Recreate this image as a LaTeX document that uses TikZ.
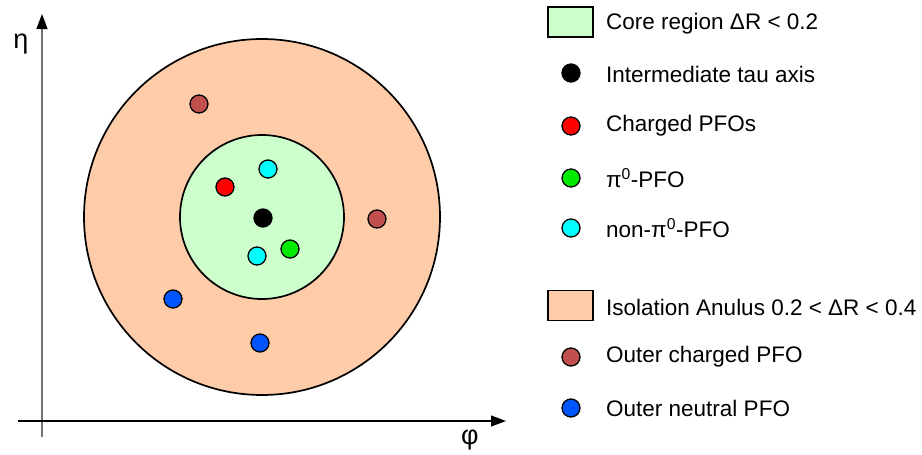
\documentclass[tikz,border=0pt]{standalone}
\usepackage{fontspec}
\setmainfont{Liberation Sans}
\usetikzlibrary{arrows.meta}
\definecolor{coregreen}{RGB}{204,255,204}
\definecolor{isoorange}{RGB}{255,204,170}
\definecolor{outerbrown}{RGB}{192,80,77}
\definecolor{outerblue}{RGB}{0,85,255}
\definecolor{pizero}{RGB}{0,235,0}
\definecolor{aqua}{RGB}{0,255,255}

\begin{document}
\begin{tikzpicture}[x=1pt,y=-1pt,font=\fontsize{22.5}{26}\selectfont,
				pfo/.style={circle,draw=black,line width=1.3pt,inner sep=0pt,minimum size=18pt},
				region/.style={circle,draw=black,line width=1.7pt,inner sep=0pt},
				legbox/.style={draw=black,line width=1.4pt,inner sep=0pt,minimum width=45pt,minimum height=30pt},
				lbl/.style={anchor=west,inner sep=0pt},
				ax/.style={-{Triangle[length=15pt,width=11pt,color=black]}}]
				\useasboundingbox (0,0) rectangle (922,455);
				
				% axes
				\coordinate (ybot) at (42,437);
				\coordinate (ytop) at (42,14);
				\coordinate (xleft) at (18,421);
				\coordinate (xright) at (506,421);
				\draw[ax,gray!90!black,line width=1.2pt] (ybot) -- (ytop);
				\draw[ax,black,line width=1.2pt] (xleft) -- (xright);
				\node (eta) at (21,44){\fontsize{27}{30}\selectfont η};
				\node (phi) at (470,440){\fontsize{27}{30}\selectfont φ};
				
				% cone regions
				\node[region,fill=isoorange,minimum size=356pt] (iso) at (262,217){};
				\node[region,fill=coregreen,minimum size=164pt] (core) at (262,217){};
				
				% PFOs
				\node[pfo,fill=black] (axis) at (263,218){};
				\node[pfo,fill=red] (ch1) at (225,187){};
				\node[pfo,fill=aqua] (np1) at (268,169){};
				\node[pfo,fill=aqua] (np2) at (257,256){};
				\node[pfo,fill=pizero] (pi1) at (290,249){};
				\node[pfo,fill=outerbrown] (och1) at (199,104){};
				\node[pfo,fill=outerbrown] (och2) at (377,219){};
				\node[pfo,fill=outerblue] (onu1) at (173,299){};
				\node[pfo,fill=outerblue] (onu2) at (260,343){};
				
				% legend
				\node[legbox,fill=coregreen] (lcore) at (570.5,22){};
				\node[lbl] (tcore) at (606,24){Core region ΔR < 0.2};
				\node[pfo,fill=black] (laxis) at (571,73){};
				\node[lbl] (taxis) at (606,74){Intermediate tau axis};
				\node[pfo,fill=red] (lch) at (571,126){};
				\node[lbl] (tch) at (606,126){Charged PFOs};
				\node[pfo,fill=pizero] (lpi) at (571,178){};
				\node[lbl] (tpi) at (606,178){π\textsuperscript{0}-PFO};
				\node[pfo,fill=aqua] (lnp) at (571,228){};
				\node[lbl] (tnp) at (606,228){non-π\textsuperscript{0}-PFO};
				
				\node[legbox,fill=isoorange] (liso) at (570.5,305.5){};
				\node[lbl] (tiso) at (606,307){Isolation Anulus 0.2 < ΔR < 0.4};
				\node[pfo,fill=outerbrown] (loch) at (571,357){};
				\node[lbl] (toch) at (606,357){Outer charged PFO};
				\node[pfo,fill=outerblue] (lonu) at (571,408){};
				\node[lbl] (tonu) at (606,408){Outer neutral PFO};
			\end{tikzpicture}
\end{document}
